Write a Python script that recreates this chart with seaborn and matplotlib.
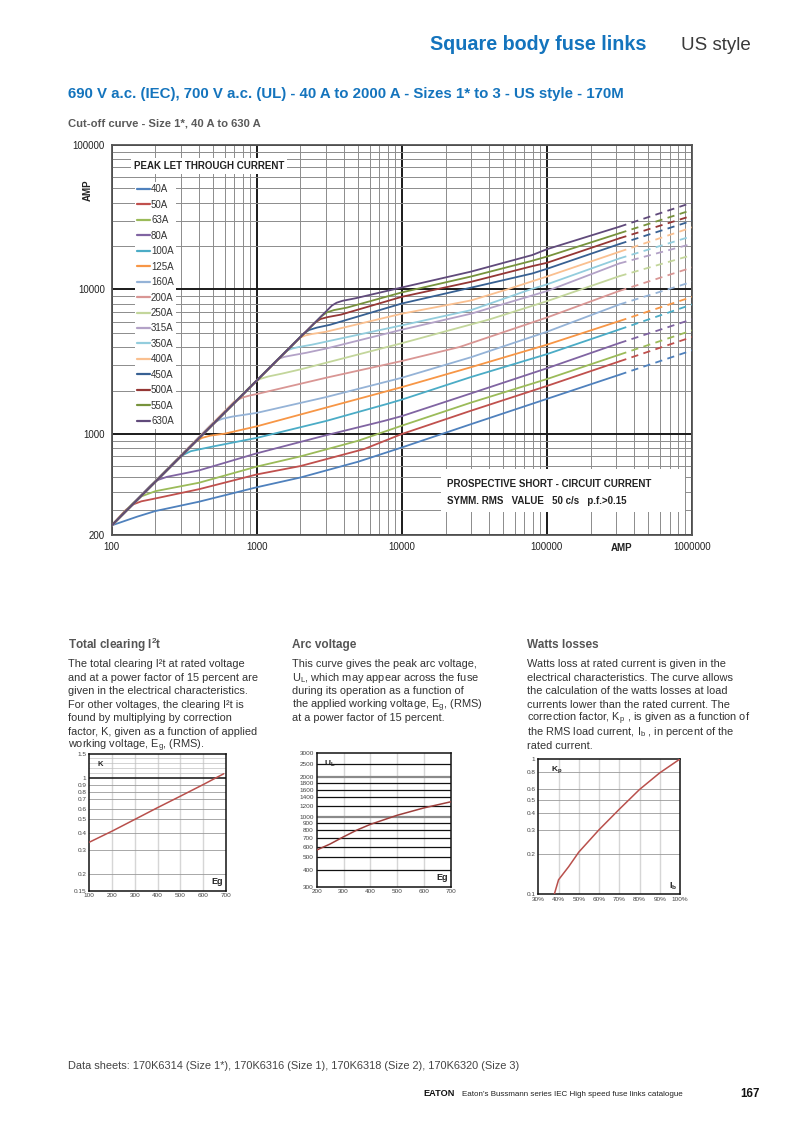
import numpy as np
import pandas as pd
import matplotlib
matplotlib.use("Agg")
import matplotlib.pyplot as plt
import matplotlib.ticker as mticker
from matplotlib.lines import Line2D
from matplotlib.patches import Rectangle
import seaborn as sns

sns.set_style("white")
plt.rcParams['font.family'] = ['Liberation Sans', 'DejaVu Sans']
plt.rcParams['mathtext.fontset'] = 'custom'
plt.rcParams['mathtext.rm'] = 'Liberation Sans'
plt.rcParams['mathtext.it'] = 'Liberation Sans'
plt.rcParams['mathtext.bf'] = 'Liberation Sans:bold'

# ---------------- data: cut-off curves (peak let-through current) ----------------
ratings = ["40A", "50A", "63A", "80A", "100A", "125A", "160A", "200A",
           "250A", "315A", "350A", "400A", "450A", "500A", "550A", "630A"]
colors = ["#4F81BD", "#C0504D", "#9BBB59", "#8064A2", "#4BACC6", "#F79646",
          "#95B3D7", "#D99694", "#C3D69B", "#B3A2C7", "#93CDDD", "#FAC090",
          "#376092", "#953735", "#77933C", "#604A7B"]

x_40A = [100, 150, 200, 400, 1000, 2000, 5000, 10000, 30000, 100000, 316000]
y_40A = [233, 268, 293, 340, 428, 500, 643, 807, 1170, 1750, 2570]
x_50A = [100, 125, 140, 160, 200, 400, 1000, 2000, 5500, 10000, 30000, 100000, 316000]
y_50A = [233, 298, 325, 342, 358, 415, 525, 600, 787, 1000, 1450, 2150, 3180]
x_63A = [100, 140, 160, 200, 400, 1000, 2000, 5000, 10000, 30000, 100000, 316000]
y_63A = [233, 332, 370, 402, 460, 595, 700, 898, 1142, 1650, 2400, 3540]
x_80A = [100, 185, 205, 240, 400, 1000, 3000, 7500, 10000, 30000, 100000, 316000]
y_80A = [233, 440, 478, 505, 560, 735, 980, 1230, 1330, 1910, 2850, 4260]
x_100A = [100, 280, 310, 350, 500, 1000, 3000, 8000, 10000, 30000, 100000, 316000]
y_100A = [233, 665, 715, 760, 820, 940, 1230, 1620, 1730, 2480, 3570, 5290]
x_125A = [100, 370, 420, 480, 600, 1000, 3400, 10000, 30000, 100000, 316000]
y_125A = [233, 880, 940, 975, 1005, 1130, 1575, 2110, 2900, 4150, 6050]
x_160A = [100, 500, 580, 680, 1000, 3000, 10000, 30000, 100000, 316000]
y_160A = [233, 1200, 1275, 1320, 1400, 1800, 2450, 3400, 5100, 7880]
x_200A = [100, 700, 800, 900, 1000, 3000, 10000, 25000, 100000, 316000]
y_200A = [233, 1680, 1790, 1850, 1890, 2450, 3200, 4000, 6400, 9780]
x_250A = [100, 950, 1050, 1200, 1500, 2000, 10000, 40000, 100000, 316000]
y_250A = [233, 2250, 2400, 2500, 2620, 2800, 4250, 6200, 8300, 12370]
x_315A = [100, 1400, 1550, 1750, 2200, 3000, 10000, 30000, 100000, 316000]
y_315A = [233, 3300, 3420, 3500, 3650, 3900, 5270, 6800, 9750, 15150]
x_350A = [100, 1600, 1750, 1950, 2400, 10000, 30000, 76700, 100000, 316000]
y_350A = [233, 3760, 3900, 4000, 4150, 5650, 7200, 10000, 10850, 16400]
x_400A = [100, 1950, 2150, 2400, 3000, 10000, 30000, 53000, 100000, 316000]
y_400A = [233, 4600, 4800, 4920, 5100, 6800, 8400, 10000, 12300, 18240]
x_450A = [100, 2100, 2300, 2600, 3200, 10000, 30000, 79000, 100000, 316000]
y_450A = [233, 4950, 5250, 5450, 5700, 8000, 10300, 12900, 13900, 20650]
x_500A = [100, 2500, 2750, 3100, 3800, 10000, 30000, 79000, 100000, 316000]
y_500A = [233, 5850, 6250, 6450, 6700, 8900, 11300, 14500, 15300, 22600]
x_550A = [100, 2800, 3050, 3400, 4200, 10000, 30000, 79000, 100000, 316000]
y_550A = [233, 6550, 6950, 7200, 7500, 9550, 12300, 15800, 16900, 24500]
x_630A = [100, 3300, 3550, 3900, 4800, 10000, 30000, 79000, 100000, 316000]
y_630A = [233, 7750, 8100, 8350, 8700, 10330, 13300, 17300, 19000, 27200]

# dashed extrapolation end values at 1 000 000 A
dash_end_x = 1000000
dash_end_y = [3790, 4690, 5210, 6220, 7880, 8890, 11300, 14200,
              17300, 20700, 23400, 26900, 29900, 32400, 35500, 39900]

curve_x = [x_40A, x_50A, x_63A, x_80A, x_100A, x_125A, x_160A, x_200A,
           x_250A, x_315A, x_350A, x_400A, x_450A, x_500A, x_550A, x_630A]
curve_y = [y_40A, y_50A, y_63A, y_80A, y_100A, y_125A, y_160A, y_200A,
           y_250A, y_315A, y_350A, y_400A, y_450A, y_500A, y_550A, y_630A]

# ---------------- data: small charts ----------------
k_x = [100, 200, 300, 400, 500, 600, 690]
k_y = [0.34, 0.41, 0.50, 0.61, 0.74, 0.90, 1.08]
k_yticks = [0.15, 0.2, 0.3, 0.4, 0.5, 0.6, 0.7, 0.8, 0.9, 1, 1.5]
k_xticks = [100, 200, 300, 400, 500, 600, 700]

arc_x = [200, 250, 300, 350, 400, 500, 600, 700]
arc_y = [565, 627, 710, 798, 880, 1030, 1170, 1300]
arc_yticks = [300, 400, 500, 600, 700, 800, 900, 1000, 1200, 1400, 1600, 1800, 2000, 2500, 3000]
arc_xticks = [200, 300, 400, 500, 600, 700]

w_x = [37.9, 40, 45, 50, 60, 70, 80, 90, 100]
w_y = [0.1, 0.128, 0.16, 0.205, 0.30, 0.425, 0.595, 0.79, 1.0]
w_yticks = [0.1, 0.2, 0.3, 0.4, 0.5, 0.6, 0.8, 1]
w_xticks = [30, 40, 50, 60, 70, 80, 90, 100]

# ---------------- figure ----------------
W, H = 793, 1122
fig = plt.figure(figsize=(W / 100, H / 100), dpi=100)


def rect(l, t, r, b):
    return [l / W, 1 - b / H, (r - l) / W, (b - t) / H]


def ftext(x, y, s, **kw):
    kw.setdefault('va', 'center')
    return fig.text(x / W, 1 - y / H, s, **kw)


BLUE = '#1474bd'

# header
ftext(430, 45, "Square body fuse links", color=BLUE, fontsize=14.2, fontweight='bold')
ftext(681, 45, "US style", color='#3a3a3a', fontsize=13.5)
ftext(68, 94, "690 V a.c. (IEC), 700 V a.c. (UL) - 40 A to 2000 A - Sizes 1* to 3 - US style - 170M",
      color=BLUE, fontsize=10.8, fontweight='bold')
ftext(68, 124, "Cut-off curve - Size 1*, 40 A to 630 A", color='#5a5a5a', fontsize=8.1,
      fontweight='bold')

# ---------------- main chart ----------------
ax = fig.add_axes(rect(111.7, 145, 692, 535))
ax.set_xscale('log')
ax.set_yscale('log')
ax.set_xlim(100, 1e6)
ax.set_ylim(200, 1e5)

rows = []
drows = []
for r, xs, ys, ye in zip(ratings, curve_x, curve_y, dash_end_y):
    for xv, yv in zip(xs, ys):
        rows.append((r, xv, yv))
    drows.append((r, xs[-1], ys[-1]))
    drows.append((r, dash_end_x, ye))
df = pd.DataFrame(rows, columns=['rating', 'x', 'y'])
ddf = pd.DataFrame(drows, columns=['rating', 'x', 'y'])
pal = dict(zip(ratings, colors))

sns.lineplot(data=df, x='x', y='y', hue='rating', hue_order=ratings, palette=pal,
             estimator=None, sort=False, legend=False, lw=1.3, ax=ax, zorder=3)
sns.lineplot(data=ddf, x='x', y='y', hue='rating', hue_order=ratings, palette=pal,
             estimator=None, sort=False, legend=False, lw=1.3, ax=ax, zorder=3,
             linestyle=(0, (4, 3)))

ax.set_xticks([1e2, 1e3, 1e4, 1e5, 1e6])
ax.set_xticklabels(['100', '1000', '10000', '100000', '1000000'])
ax.set_yticks([200, 1e3, 1e4, 1e5])
ax.set_yticklabels(['200', '1000', '10000', '100000'])
ax.xaxis.set_minor_locator(mticker.LogLocator(base=10, subs=np.arange(2, 10), numticks=20))
ax.yaxis.set_minor_locator(mticker.LogLocator(base=10, subs=np.arange(2, 10), numticks=20))
ax.xaxis.set_minor_formatter(mticker.NullFormatter())
ax.yaxis.set_minor_formatter(mticker.NullFormatter())
ax.set_axisbelow(True)
ax.grid(True, which='major', color='#1a1a1a', lw=1.4)
ax.grid(True, which='minor', color='#8c8c8c', lw=0.7)
ax.tick_params(which='both', length=0, labelsize=7, colors='#222222', pad=5)
for s in ax.spines.values():
    s.set_color('#555555')
    s.set_linewidth(1.3)
ax.set_xlabel('')
ax.set_ylabel('')

# legend
handles = [Line2D([0], [0], color=c, lw=1.6) for c in colors]
leg = ax.legend(handles, ratings, loc='upper left', bbox_to_anchor=(135 / W, 1 - 182 / H),
                bbox_transform=fig.transFigure, fontsize=7, frameon=True, fancybox=False,
                framealpha=1, facecolor='white', edgecolor='none', handlelength=1.25,
                handletextpad=0.15, labelspacing=0.56, borderpad=0.25, borderaxespad=0)
for t in leg.get_texts():
    t.set_color('#333333')

ftext(134, 166, "PEAK LET THROUGH CURRENT", fontsize=7, fontweight='bold', color='#222222',
      bbox=dict(facecolor='white', edgecolor='none', pad=2))
ftext(88, 190, "AMP", fontsize=7, fontweight='bold', rotation=90, ha='center', color='#222222')
ftext(622, 548, "AMP", fontsize=7, fontweight='bold', ha='center', color='#222222')

box = Rectangle((441 / W, 1 - 512 / H), (685 - 441) / W, (512 - 469) / H,
                transform=fig.transFigure, facecolor='white', edgecolor='none', zorder=1.5)
ax.add_patch(box)
ftext(447, 484, "PROSPECTIVE SHORT - CIRCUIT CURRENT", fontsize=7, fontweight='bold',
      color='#222222', zorder=4)
ftext(447, 501, "SYMM. RMS   VALUE   50 c/s   p.f.>0.15", fontsize=7, fontweight='bold',
      color='#222222', zorder=4)

# ---------------- text columns ----------------
HEAD_C = '#555555'
TXT_C = '#333333'
ftext(68, 645, r"Total clearing I$^\mathregular{2}$t", fontsize=8.5, fontweight='bold', color=HEAD_C)
ftext(292, 645, "Arc voltage", fontsize=8.5, fontweight='bold', color=HEAD_C)
ftext(527, 645, "Watts losses", fontsize=8.5, fontweight='bold', color=HEAD_C)

col1 = ["The total clearing I\u00b2t at rated voltage",
        "and at a power factor of 15 percent are",
        "given in the electrical characteristics.",
        "For other voltages, the clearing I\u00b2t is",
        "found by multiplying by correction",
        "factor, K, given as a function of applied",
        r"working voltage, E$_\mathregular{g}$, (RMS)."]
col2 = ["This curve gives the peak arc voltage,",
        r"U$_\mathregular{L}$, which may appear across the fuse",
        "during its operation as a function of",
        r"the applied working voltage, E$_\mathregular{g}$, (RMS)",
        "at a power factor of 15 percent."]
col3 = ["Watts loss at rated current is given in the",
        "electrical characteristics. The curve allows",
        "the calculation of the watts losses at load",
        "currents lower than the rated current. The",
        r"correction factor, K$_\mathregular{p}$ , is given as a function of",
        r"the RMS load current, I$_\mathregular{b}$ , in percent of the",
        "rated current."]
for x0, col in [(68, col1), (292, col2), (527, col3)]:
    for i, line in enumerate(col):
        ftext(x0, 667 + i * 13.6, line, fontsize=7.9, color=TXT_C, va='baseline')


# ---------------- small charts ----------------
def small_axes(l, t, r, b):
    a = fig.add_axes(rect(l, t, r, b))
    a.set_yscale('log')
    a.tick_params(which='both', length=0, labelsize=4.6, colors='#444444', pad=2)
    for s in a.spines.values():
        s.set_color('#111111')
        s.set_linewidth(1.1)
    return a


RED = '#b9504c'

# K chart
ak = small_axes(89.3, 754.3, 226, 890.7)
ak.set_xlim(100, 700)
ak.set_ylim(0.15, 1.5)
for xv in k_xticks[1:-1]:
    ak.axvline(xv, color='#d6d6d6', lw=1.0, zorder=0)
for yv in k_yticks[1:-1]:
    ak.axhline(yv, color='#111111' if yv == 1 else '#9a9a9a', lw=1.1 if yv == 1 else 0.6, zorder=0.5)
for yv in [1.1, 1.2, 1.3, 1.4]:
    ak.axhline(yv, color='#c0c0c0', lw=0.5, zorder=0.5)
sns.lineplot(x=k_x, y=k_y, color=RED, lw=1.1, ax=ak, zorder=3)
ak.yaxis.set_major_locator(mticker.FixedLocator(k_yticks))
ak.yaxis.set_major_formatter(mticker.FixedFormatter([str(v) for v in k_yticks]))
ak.yaxis.set_minor_locator(mticker.NullLocator())
ak.set_xticks(k_xticks)
ak.set_xticklabels([str(v) for v in k_xticks])
ftext(97, 764, "K", fontsize=5.5, fontweight='bold', color='#222222')
ftext(211, 882, "Eg", fontsize=6.5, fontweight='bold', color='#222222')

# Arc voltage chart
aa = small_axes(316.7, 753.3, 451, 886.7)
aa.set_xlim(200, 700)
aa.set_ylim(300, 3000)
for xv in arc_xticks[1:-1]:
    aa.axvline(xv, color='#d6d6d6', lw=1.0, zorder=0)
for yv in arc_yticks[1:-1]:
    if yv in (1000, 2000):
        aa.axhline(yv, color='#8a8a8a', lw=1.6, zorder=0.5)
    else:
        aa.axhline(yv, color='#111111', lw=0.9, zorder=0.5)
sns.lineplot(x=arc_x, y=arc_y, color='#9e3f3c', lw=1.1, ax=aa, zorder=3)
aa.yaxis.set_major_locator(mticker.FixedLocator(arc_yticks))
aa.yaxis.set_major_formatter(mticker.FixedFormatter([str(v) for v in arc_yticks]))
aa.yaxis.set_minor_locator(mticker.NullLocator())
aa.set_xticks(arc_xticks)
aa.set_xticklabels([str(v) for v in arc_xticks])
ftext(324, 764, r"U$_\mathregular{L}$", fontsize=6, fontweight='bold', color='#222222')
ftext(436, 877, "Eg", fontsize=6.5, fontweight='bold', color='#222222')

# Watts losses chart
aw = small_axes(538.3, 759, 680, 894.3)
aw.set_xlim(30, 100)
aw.set_ylim(0.1, 1)
for xv in w_xticks[1:-1]:
    aw.axvline(xv, color='#d6d6d6', lw=1.0, zorder=0)
for yv in w_yticks[1:-1]:
    aw.axhline(yv, color='#9a9a9a', lw=0.6, zorder=0.5)
sns.lineplot(x=w_x, y=w_y, color=RED, lw=1.1, ax=aw, zorder=3)
aw.yaxis.set_major_locator(mticker.FixedLocator(w_yticks))
aw.yaxis.set_major_formatter(mticker.FixedFormatter([str(v) for v in w_yticks]))
aw.yaxis.set_minor_locator(mticker.NullLocator())
aw.set_xticks(w_xticks)
aw.set_xticklabels([f"{v}%" for v in w_xticks])
ftext(551, 770, r"K$_\mathregular{p}$", fontsize=6, fontweight='bold', color='#222222')
ftext(669, 886, r"I$_\mathregular{b}$", fontsize=6.5, fontweight='bold', color='#222222')

# ---------------- footer ----------------
ftext(68, 1066, "Data sheets: 170K6314 (Size 1*), 170K6316 (Size 1), 170K6318 (Size 2), 170K6320 (Size 3)",
      fontsize=7.9, color='#444444')
ftext(423, 1094, "EATON", fontsize=6.6, fontweight='bold', color='#111111')
ftext(462, 1094, "Eaton\u2019s Bussmann series IEC High speed fuse links catalogue", fontsize=5.8,
      color='#222222')
ftext(740, 1094, "167", fontsize=8.3, fontweight='bold', color='#111111')

fig.savefig("out.png", dpi=100)
